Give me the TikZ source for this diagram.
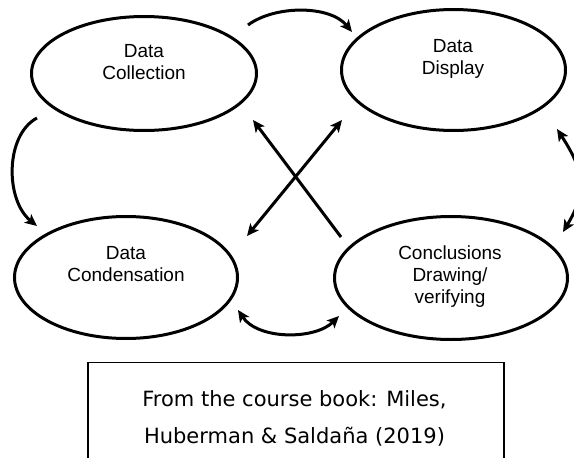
\documentclass[tikz,border=0pt]{standalone}
\usepackage{fontspec}
\setmainfont{Liberation Sans}
\newfontfamily\boxfont{DejaVu Sans}
\usetikzlibrary{shapes.geometric,arrows.meta}
\begin{document}
\begin{tikzpicture}[x=1pt,y=-1pt,
  blob/.style={draw,ellipse,line width=3pt,inner sep=0pt},
  lbl/.style={anchor=base,inner sep=0pt,font=\fontsize{19}{22}\selectfont},
  conn/.style={line width=3pt,-{Stealth[length=12pt,width=11pt,inset=3pt]}},
  biconn/.style={line width=3pt,{Stealth[length=12pt,width=11pt,inset=3pt]}-{Stealth[length=12pt,width=11pt,inset=3pt]}},
  srcbox/.style={draw,line width=1.5pt,inner sep=0pt,anchor=north west},
  srctext/.style={anchor=base,inner sep=0pt,font=\boxfont\fontsize{21}{24}\selectfont}]
\useasboundingbox (0,0) rectangle (574,458);
\clip (0,0) rectangle (574,458);

% ellipses
\node[blob,minimum width=225pt,minimum height=114pt] (coll) at (144,73.5) {};
\node[blob,minimum width=224pt,minimum height=121pt] (disp) at (453.5,70) {};
\node[blob,minimum width=223pt,minimum height=122pt] (cond) at (126,277.5) {};
\node[blob,minimum width=233pt,minimum height=123pt] (conc) at (451,278) {};

% labels
\node[lbl] (collA) at (144,57) {Data};
\node[lbl] (collB) at (144,79) {Collection};
\node[lbl] (dispA) at (453,52) {Data};
\node[lbl] (dispB) at (453,74) {Display};
\node[lbl] (condA) at (126,259) {Data};
\node[lbl] (condB) at (126,281) {Condensation};
\node[lbl] (concA) at (450,259) {Conclusions};
\node[lbl] (concB) at (450,281) {Drawing/};
\node[lbl] (concC) at (450,303) {verifying};

% connector end points
\coordinate (t1) at (248,25);
\coordinate (t2) at (352,32);
\coordinate (l1) at (37,118);
\coordinate (l2) at (37,226);
\coordinate (r1) at (557,129);
\coordinate (r2) at (563,232);
\coordinate (b1) at (238,310);
\coordinate (b2) at (339,316);
\coordinate (x1) at (341,237);
\coordinate (x2) at (253,120);
\coordinate (y1) at (247,236);
\coordinate (y2) at (342,120);

% connectors
\draw[conn] (t1) .. controls (275,5) and (330,5) .. (t2);
\draw[conn] (l1) .. controls (5,135) and (5,200) .. (l2);
\draw[biconn] (r1) .. controls (585,172) and (587,192) .. (r2);
\draw[biconn] (b1) .. controls (258,340) and (315,340) .. (b2);
\draw[conn] (x1) -- (x2);
\draw[biconn] (y1) -- (y2);

% source box
\node[srcbox,minimum width=416pt,minimum height=130pt] (src) at (87,361.5) {};
\node[srctext] (srcA) at (294.5,406) {From the course book: Miles,};
\node[srctext] (srcB) at (294.5,443) {Huberman \& Saldaña (2019)};
\end{tikzpicture}
\end{document}
